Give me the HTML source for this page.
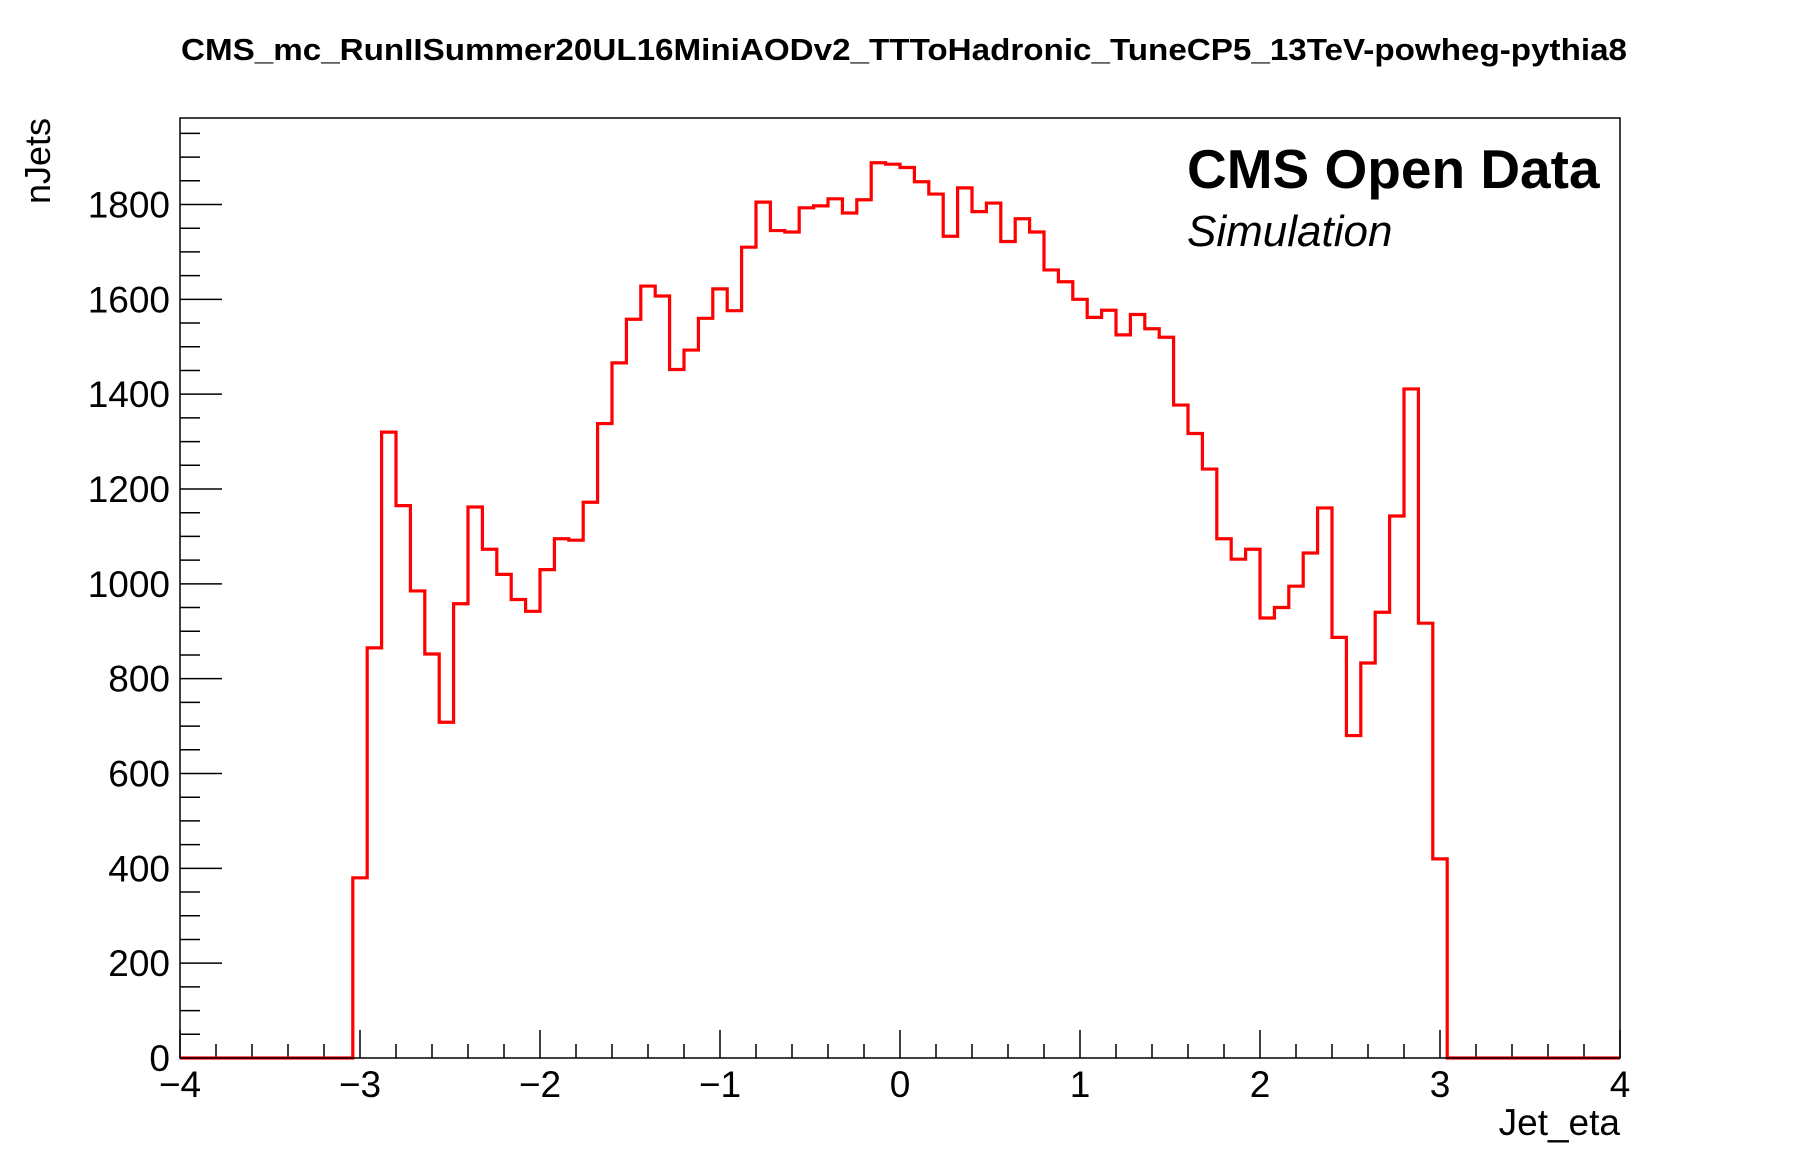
<!DOCTYPE html>
<html><head><meta charset="utf-8"><style>
html,body{margin:0;padding:0;background:#fff;}
svg{display:block;font-family:"Liberation Sans",Arial,sans-serif;}
</style></head><body>
<svg id="chart" width="1798" height="1176" viewBox="0 0 1798 1176" xmlns="http://www.w3.org/2000/svg">
<rect width="1798" height="1176" fill="#fff"/>
<text x="181" y="60" font-size="31" font-weight="bold" textLength="1446" lengthAdjust="spacingAndGlyphs">CMS_mc_RunIISummer20UL16MiniAODv2_TTToHadronic_TuneCP5_13TeV-powheg-pythia8</text>
<g id="axes"></g>
<path id="hist" fill="none" stroke="#ff0000" stroke-width="3.2"/>
<rect x="180" y="118" width="1440" height="940" fill="none" stroke="#000" stroke-width="1.5"/>
<text x="1187" y="188" font-size="55" font-weight="bold">CMS Open Data</text>
<text x="1187" y="246" font-size="44" font-style="italic">Simulation</text>
<text x="1620" y="1135" font-size="37" text-anchor="end">Jet_eta</text>
<text transform="translate(50,118) rotate(-90)" font-size="36" text-anchor="end">nJets</text>
</svg>
<script>
const binStart = -3.04;
const binWidth = 0.08;
const counts = [380,865,1320,1165,985,852,708,958,1162,1073,
1020,967,942,1030,1095,1092,1172,1338,1466,1558,
1628,1607,1452,1493,1560,1622,1576,1710,1805,1745,
1742,1793,1797,1812,1782,1810,1888,1885,1878,1848,
1822,1733,1835,1785,1803,1722,1770,1742,1662,1637,
1600,1562,1577,1525,1568,1538,1520,1377,1317,1242,
1095,1052,1073,928,950,995,1065,1160,887,680,
833,940,1143,1411,917,420];
const xTicks = [-4,-3,-2,-1,0,1,2,3,4];
const xTickLabels = ["\u22124","\u22123","\u22122","\u22121","0","1","2","3","4"];
const yTicks = [0,200,400,600,800,1000,1200,1400,1600,1800];
const yTickLabels = ["0","200","400","600","800","1000","1200","1400","1600","1800"];

const X0=180,X1=1620,Y0=1058,Y1=118;
const xMin=-4,xMax=4,yMin=0,yMax=Math.max(...counts)*1.05;
const sx=v=>X0+(v-xMin)/(xMax-xMin)*(X1-X0);
const sy=v=>Y0-(v-yMin)/(yMax-yMin)*(Y0-Y1);
const NS="http://www.w3.org/2000/svg";
const axes=document.getElementById('axes');
function mk(tag,attrs){const e=document.createElementNS(NS,tag);for(const k in attrs)e.setAttribute(k,attrs[k]);axes.appendChild(e);return e;}

for(let i=0;i<xTicks.length;i++){
  const x=sx(xTicks[i]);
  const t=mk('line',{x1:x,x2:x,y1:Y0,y2:Y0-28,stroke:'#000','stroke-width':1.5});
  
  
  const lb=mk('text',{x:x,y:1097,'font-size':37,'text-anchor':'middle'});
  lb.textContent=xTickLabels[i];
  
  
  if(i<xTicks.length-1){
    for(let j=1;j<5;j++){
      const xm=sx(xTicks[i]+j*(xTicks[i+1]-xTicks[i])/5);
      const m=mk('line',{x1:xm,x2:xm,y1:Y0,y2:Y0-14,stroke:'#000','stroke-width':1.5});
      
      
    }
  }
}
const step=yTicks[1]-yTicks[0];
for(let v=0;v<=yMax;v+=step/4){
  const y=sy(v);
  const major=Math.abs(v%step)<1e-6;
  const t=mk('line',{x1:X0,x2:X0+(major?42:20),y1:y,y2:y,stroke:'#000','stroke-width':1.5});
  
  
}
for(let i=0;i<yTicks.length;i++){
  const lb=mk('text',{x:170,y:sy(yTicks[i])+13,'font-size':37,'text-anchor':'end'});
  lb.textContent=yTickLabels[i];
  
  
}
let d='M'+sx(xMin)+','+sy(0)+' L'+sx(binStart)+','+sy(0);
for(let i=0;i<counts.length;i++){
  const a=binStart+i*binWidth,b=a+binWidth;
  d+=' L'+sx(a)+','+sy(counts[i])+' L'+sx(b)+','+sy(counts[i]);
}
const end=binStart+counts.length*binWidth;
d+=' L'+sx(end)+','+sy(0)+' L'+sx(xMax)+','+sy(0);
document.getElementById('hist').setAttribute('d',d);
</script>
</body></html>
